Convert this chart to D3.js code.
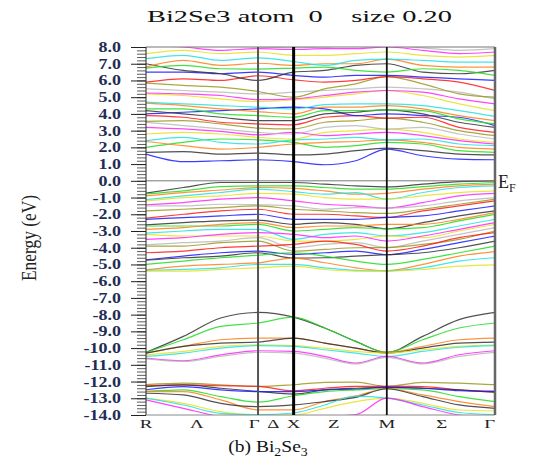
<!DOCTYPE html>
<html>
<head>
<meta charset="utf-8">
<script src="https://cdn.jsdelivr.net/npm/d3@7.9.0/dist/d3.min.js"></script>
<style>
  body { margin: 0; background: #fff; }
  svg { display: block; }
  text { font-family: "Liberation Serif", "Times New Roman", serif; }
</style>
</head>
<body>
<svg id="chart" width="536" height="463"></svg>
<script>
// k-path sample positions (fraction of path) and symmetry labels
const kSamples = [0, 0.107, 0.214, 0.321, 0.423, 0.512, 0.601, 0.69, 0.793, 0.897, 1.0];
const kLabels = ['R', 'Λ', 'Γ', 'Δ', 'X', 'Z', 'M', 'Σ', 'Γ'];
const kLabelPos = [0.0, 0.146, 0.31, 0.365, 0.423, 0.538, 0.69, 0.847, 0.985];
const symLines = [0.321, 0.423, 0.69, 1.0];
const yTickValues = d3.range(-14, 8.01, 1);

// conduction bands (eV at each k sample)
const conduction = [
  [1.6, 1.15, 1.2, 1.26, 1.15, 0.96, 1.2, 1.89, 1.5, 1.3, 1.26],
  [1.7, 1.75, 1.6, 1.66, 1.55, 1.6, 1.8, 1.95, 1.8, 1.6, 1.55],
  [2.0, 2.3, 2.5, 2.45, 2.3, 2.0, 2.1, 2.3, 2.2, 1.8, 1.7],
  [2.35, 2.1, 1.9, 2.0, 2.2, 2.3, 2.35, 2.45, 2.3, 2.0, 1.9],
  [2.4, 2.6, 2.3, 2.2, 2.45, 2.5, 2.6, 2.45, 2.5, 2.2, 2.1],
  [2.8, 2.9, 2.8, 2.6, 2.5, 2.9, 3.0, 3.09, 2.9, 2.5, 2.3],
  [3.2, 3.1, 2.95, 2.75, 2.9, 2.7, 2.8, 2.9, 2.7, 2.4, 2.2],
  [3.5, 3.3, 3.1, 2.9, 2.8, 3.2, 3.3, 3.09, 3.2, 2.8, 2.5],
  [3.55, 3.6, 3.4, 3.15, 3.1, 3.5, 3.6, 3.75, 3.5, 3.0, 2.7],
  [3.9, 3.8, 3.5, 3.4, 3.35, 3.8, 3.9, 3.75, 3.8, 3.2, 2.9],
  [4.0, 4.1, 4.2, 4.3, 4.4, 4.3, 3.9, 4.0, 3.9, 3.8, 3.3],
  [4.2, 4.0, 3.8, 3.6, 3.6, 4.0, 4.1, 4.24, 4.0, 3.5, 3.2],
  [4.3, 4.3, 4.0, 3.9, 3.8, 4.2, 4.2, 4.24, 4.2, 3.7, 3.4],
  [4.64, 4.5, 4.3, 4.14, 4.0, 4.4, 4.4, 4.5, 4.3, 3.9, 3.6],
  [4.7, 4.6, 4.5, 4.4, 4.3, 4.55, 4.6, 4.6, 4.5, 4.2, 3.85],
  [5.2, 5.1, 4.9, 4.74, 4.84, 5.0, 5.2, 5.4, 5.1, 4.6, 4.2],
  [5.25, 5.2, 5.1, 4.85, 4.9, 5.1, 5.3, 5.4, 5.3, 4.9, 4.6],
  [5.5, 5.4, 5.3, 5.2, 5.3, 5.4, 5.5, 5.6, 5.5, 5.3, 4.9],
  [5.84, 5.7, 5.6, 5.34, 5.0, 5.5, 5.8, 6.23, 5.8, 5.2, 5.0],
  [5.9, 6.1, 6.0, 6.28, 6.04, 5.9, 6.0, 6.23, 6.1, 5.9, 5.4],
  [6.5, 6.5, 6.4, 6.5, 6.3, 6.2, 6.3, 6.3, 6.2, 6.1, 6.0],
  [7.0, 6.6, 6.4, 6.0, 6.5, 6.6, 6.9, 7.0, 6.5, 6.4, 6.6],
  [6.74, 6.9, 6.7, 6.68, 6.74, 6.8, 6.6, 6.5, 6.7, 6.6, 6.3],
  [6.8, 7.2, 6.9, 7.03, 6.9, 7.0, 7.0, 7.27, 6.9, 6.8, 6.8],
  [7.3, 7.5, 7.2, 7.35, 7.13, 6.9, 7.2, 7.27, 7.2, 7.1, 7.1],
  [7.6, 7.8, 7.6, 7.7, 7.5, 7.5, 7.6, 7.7, 7.5, 7.4, 7.5],
  [8.1, 8.0, 7.8, 7.9, 7.85, 7.9, 7.9, 8.0, 7.8, 7.6, 7.7],
  [8.3, 8.2, 8.1, 8.0, 7.95, 8.0, 8.1, 8.1, 7.95, 7.8, 7.9]
];

// valence bands, top down
const valence = [
  [-0.74, -0.4, -0.1, -0.1, -0.1, -0.2, -0.3, -0.36, -0.2, -0.05, 0.0],
  [-0.78, -0.6, -0.35, -0.3, -0.3, -0.4, -0.5, -0.5, -0.35, -0.2, -0.1],
  [-0.9, -0.7, -0.55, -0.4, -0.45, -0.6, -0.8, -0.75, -0.5, -0.3, -0.2],
  [-1.13, -0.9, -0.7, -0.5, -0.65, -0.8, -0.7, -1.1, -0.7, -0.4, -0.3],
  [-1.2, -1.0, -0.9, -0.75, -0.8, -1.0, -1.1, -1.1, -0.9, -0.7, -0.6],
  [-1.43, -1.3, -1.1, -1.0, -1.2, -1.4, -1.5, -1.63, -1.3, -0.9, -0.75],
  [-1.5, -1.5, -1.4, -1.43, -1.5, -1.7, -1.6, -1.63, -1.5, -1.2, -1.0],
  [-1.8, -1.7, -1.6, -1.5, -1.7, -1.8, -1.9, -1.95, -1.7, -1.4, -1.1],
  [-2.23, -2.0, -1.8, -1.7, -2.0, -2.0, -2.1, -2.19, -1.8, -1.5, -1.2],
  [-2.3, -2.2, -2.1, -2.0, -2.3, -2.3, -2.3, -2.19, -2.1, -1.8, -1.5],
  [-2.63, -2.5, -2.4, -2.35, -2.6, -2.5, -2.6, -2.87, -2.5, -2.1, -1.8],
  [-2.7, -2.7, -2.7, -2.6, -3.0, -2.9, -2.8, -2.87, -2.8, -2.4, -2.0],
  [-2.9, -2.8, -2.6, -2.5, -2.8, -2.7, -2.7, -2.6, -2.6, -2.3, -1.9],
  [-3.13, -3.0, -2.9, -2.9, -3.5, -3.2, -3.1, -3.29, -3.1, -2.7, -2.3],
  [-3.2, -3.3, -3.3, -3.3, -3.6, -3.6, -3.5, -3.29, -3.4, -3.0, -2.6],
  [-3.5, -3.4, -3.2, -3.1, -3.2, -3.4, -3.3, -3.6, -3.3, -2.9, -2.5],
  [-3.83, -3.7, -3.6, -3.4, -4.0, -3.8, -3.7, -3.99, -3.6, -3.2, -2.8],
  [-3.9, -3.9, -3.7, -3.6, -4.2, -4.1, -4.0, -3.99, -3.8, -3.5, -3.0],
  [-4.3, -4.2, -4.0, -3.9, -3.8, -3.6, -3.8, -4.2, -3.9, -3.4, -3.1],
  [-4.72, -4.5, -4.3, -4.2, -4.4, -4.3, -4.2, -4.42, -4.1, -3.7, -3.3],
  [-4.75, -4.6, -4.5, -4.3, -4.62, -4.6, -4.5, -4.42, -4.3, -4.0, -3.6],
  [-5.0, -4.8, -4.6, -4.45, -4.3, -4.5, -4.8, -5.0, -4.7, -4.3, -3.9],
  [-5.32, -5.1, -5.0, -4.9, -4.62, -4.9, -5.2, -5.38, -5.0, -4.5, -4.23],
  [-5.35, -5.3, -5.2, -5.0, -5.0, -5.2, -5.35, -5.38, -5.2, -4.8, -4.6],
  [-5.4, -5.4, -5.3, -5.2, -5.1, -5.3, -5.4, -5.4, -5.3, -5.1, -5.02]
];

// group around -10 eV
const middle = [
  [-10.26, -9.3, -8.2, -7.87, -8.15, -8.8, -9.6, -10.26, -9.3, -8.3, -7.87],
  [-10.26, -9.5, -8.7, -8.5, -8.15, -8.8, -9.6, -10.26, -9.5, -8.8, -8.5],
  [-10.3, -9.9, -9.5, -9.4, -9.4, -9.7, -10.0, -10.26, -9.9, -9.5, -9.4],
  [-10.3, -9.9, -9.7, -9.64, -9.4, -9.7, -10.0, -10.3, -10.0, -9.7, -9.64],
  [-10.4, -10.2, -9.9, -9.8, -9.85, -10.0, -10.2, -10.3, -10.1, -9.9, -9.8],
  [-10.5, -10.3, -10.0, -9.85, -9.9, -10.1, -10.3, -10.5, -10.2, -9.95, -9.85],
  [-10.6, -10.76, -10.4, -10.16, -10.2, -10.5, -10.9, -10.5, -10.9, -10.4, -10.16],
  [-10.65, -10.8, -10.5, -10.25, -10.3, -10.6, -10.95, -10.55, -10.95, -10.5, -10.25]
];

// lowest group around -13 eV
const lower = [
  [-12.19, -12.1, -12.2, -12.29, -12.19, -12.05, -12.03, -12.29, -12.05, -12.1, -12.19],
  [-12.25, -12.2, -12.25, -12.29, -12.55, -12.4, -12.29, -12.29, -12.3, -12.5, -12.59],
  [-12.3, -12.2, -12.4, -12.59, -12.75, -12.5, -12.4, -12.35, -12.4, -12.5, -12.65],
  [-12.49, -12.3, -12.5, -12.6, -12.6, -12.5, -12.45, -12.35, -12.4, -12.55, -12.59],
  [-12.59, -12.5, -12.9, -13.23, -12.85, -12.6, -12.5, -12.43, -12.5, -12.9, -13.2],
  [-12.6, -12.6, -13.1, -13.69, -13.69, -13.2, -12.87, -12.43, -12.8, -13.2, -13.5],
  [-12.7, -12.8, -13.3, -13.5, -13.4, -13.2, -12.95, -12.43, -12.9, -13.4, -13.6],
  [-12.99, -13.3, -13.8, -14.0, -14.0, -13.6, -13.2, -12.99, -13.3, -13.7, -13.76],
  [-12.99, -13.4, -13.9, -13.98, -13.88, -13.4, -12.87, -12.99, -13.4, -13.85, -13.98],
  [-13.1, -13.6, -14.1, -14.3, -14.3, -14.1, -13.98, -12.99, -13.5, -14.0, -14.2]
];

const palette = {
  red: '#ff1a1a', blue: '#1a1aff', black: '#333333', green: '#22dd22', orange: '#ff7f1a',
  cyan: '#22e0e0', yellow: '#e8e020', magenta: '#ff22ff', gray: '#b8b8b8', olive: '#999922'
};
const cycle = ['red', 'blue', 'black', 'green', 'orange', 'cyan', 'yellow', 'magenta', 'gray', 'olive'];
const middleColors = ['black', 'green', 'orange', 'black', 'yellow', 'cyan', 'magenta', 'gray'];
const lowerColors = ['olive', 'red', 'black', 'blue', 'green', 'orange', 'black', 'yellow', 'cyan', 'magenta'];

const svg = d3.select('#chart');
const plotLeft = 146, plotRight = 495, plotTop = 47, plotBottom = 415;

const x = d3.scaleLinear().domain([0, 1]).range([plotLeft, plotRight]);
const y = d3.scaleLinear().domain([-14, 8]).range([plotBottom, plotTop]);

svg.append('defs').append('clipPath').attr('id', 'plot-clip')
  .append('rect').attr('x', plotLeft).attr('y', plotTop)
  .attr('width', plotRight - plotLeft).attr('height', plotBottom - plotTop);

const line = d3.line()
  .x((d, i) => x(kSamples[i]))
  .y((d) => y(d))
  .curve(d3.curveMonotoneX);

const bands = svg.append('g').attr('clip-path', 'url(#plot-clip)');

function drawGroup(data, colorOf) {
  bands.append('g')
    .selectAll('path')
    .data(data)
    .join('path')
    .attr('d', line)
    .attr('fill', 'none')
    .attr('stroke', (d, i) => palette[colorOf(i)])
    .attr('stroke-width', 1.2)
    .attr('stroke-opacity', 0.85);
}

drawGroup(conduction, (i) => cycle[(i + 1) % cycle.length]);
drawGroup(valence, (i) => cycle[(i + 2) % cycle.length]);
drawGroup(middle, (i) => middleColors[i]);
drawGroup(lower, (i) => lowerColors[i]);

// Fermi level
svg.append('line')
  .attr('x1', plotLeft).attr('x2', plotRight)
  .attr('y1', y(0)).attr('y2', y(0))
  .attr('stroke', '#777').attr('stroke-width', 1);

// frame top / bottom
svg.append('line').attr('x1', plotLeft).attr('x2', plotRight).attr('y1', plotTop).attr('y2', plotTop)
  .attr('stroke', '#777').attr('stroke-width', 1.2);
svg.append('line').attr('x1', plotLeft).attr('x2', plotRight).attr('y1', plotBottom).attr('y2', plotBottom)
  .attr('stroke', '#888').attr('stroke-width', 1);

// symmetry lines
const symStyle = [
  { c: '#555', w: 2 },
  { c: '#000', w: 3 },
  { c: '#111', w: 1.8 },
  { c: '#666', w: 2.5 }
];
svg.append('g')
  .selectAll('line')
  .data(symLines)
  .join('line')
  .attr('x1', (d) => x(d)).attr('x2', (d) => x(d))
  .attr('y1', plotTop).attr('y2', plotBottom)
  .attr('stroke', (d, i) => symStyle[i].c)
  .attr('stroke-width', (d, i) => symStyle[i].w);

// y axis: minor and major ticks
const minorAxis = d3.axisLeft(y)
  .tickValues(d3.range(-14, 8.01, 0.2))
  .tickSize(9)
  .tickFormat('');
const majorAxis = d3.axisLeft(y)
  .tickValues(yTickValues)
  .tickSize(15)
  .tickFormat('');

svg.append('g').attr('transform', `translate(${plotLeft},0)`).call(minorAxis)
  .call((g) => g.select('.domain').remove())
  .call((g) => g.selectAll('line').attr('stroke', '#333').attr('stroke-width', 0.8));
svg.append('g').attr('transform', `translate(${plotLeft},0)`).call(majorAxis)
  .call((g) => g.select('.domain').attr('stroke', '#222').attr('d', `M0,${plotTop}V${plotBottom}`))
  .call((g) => g.selectAll('line').attr('stroke', '#222').attr('stroke-width', 1));

// y tick labels
svg.append('g')
  .selectAll('text')
  .data(yTickValues)
  .join('text')
  .attr('transform', (d) => `translate(121,${y(d) + 5}) scale(1.2,1)`)
  .attr('text-anchor', 'end')
  .attr('font-size', 15)
  .attr('font-weight', 'bold')
  .attr('fill', '#1f2d55')
  .text((d) => (d < 0 ? '-' : '') + Math.abs(d).toFixed(1));

// k labels
svg.append('g')
  .selectAll('text')
  .data(kLabels)
  .join('text')
  .attr('transform', (d, i) => `translate(${x(kLabelPos[i])},428) scale(1.45,1)`)
  .attr('text-anchor', 'middle')
  .attr('font-size', 13)
  .attr('fill', '#222')
  .text((d) => d);

// E_F label
const ef = svg.append('text').attr('x', 498).attr('y', 188).attr('font-size', 18).attr('fill', '#222');
ef.append('tspan').text('E');
ef.append('tspan').attr('font-size', 12).attr('dy', 4).text('F');

// title
svg.append('text')
  .attr('x', 147).attr('y', 22)
  .attr('font-size', 17)
  .attr('fill', '#111')
  .attr('textLength', 305)
  .attr('lengthAdjust', 'spacingAndGlyphs')
  .style('white-space', 'pre')
  .text('Bi2Se3 atom  0    size 0.20');

// y axis title
svg.append('text')
  .attr('transform', 'translate(36,238) rotate(-90)')
  .attr('text-anchor', 'middle')
  .attr('font-size', 20)
  .attr('fill', '#222')
  .attr('textLength', 86)
  .attr('lengthAdjust', 'spacingAndGlyphs')
  .text('Energy (eV)');

// caption
const cap = svg.append('text')
  .attr('transform', 'translate(268,452) scale(1.15,1)')
  .attr('text-anchor', 'middle')
  .attr('font-size', 17)
  .attr('fill', '#111');
cap.append('tspan').text('(b) Bi');
cap.append('tspan').attr('font-size', 12).attr('dy', 4).text('2');
cap.append('tspan').attr('dy', -4).text('Se');
cap.append('tspan').attr('font-size', 12).attr('dy', 4).text('3');
</script>
</body>
</html>
